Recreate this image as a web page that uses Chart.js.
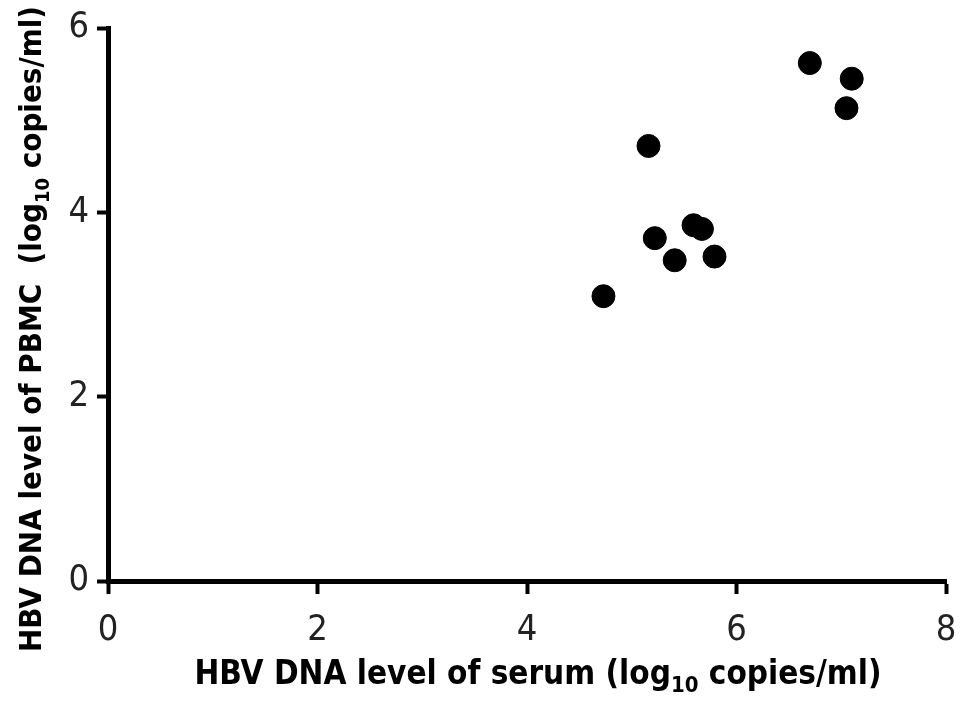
<!DOCTYPE html>
<html>
<head>
<meta charset="utf-8">
<script src="https://cdn.jsdelivr.net/npm/chart.js@4/dist/chart.umd.min.js"></script>
<style>
  html, body { margin: 0; padding: 0; background: #fff; }
  #wrap { width: 969px; height: 717px; position: relative; }
</style>
</head>
<body>
<div id="wrap"><canvas id="c"></canvas></div>
<script>
// serum vs PBMC HBV DNA (log10 copies/ml)
const serumLevels = [6.70, 7.10, 7.05, 5.16, 5.22, 5.59, 5.67, 5.41, 5.79, 4.73];
const pbmcLevels  = [5.62, 5.45, 5.13, 4.72, 3.72, 3.86, 3.82, 3.48, 3.52, 3.09];
const xTicks = [0, 2, 4, 6, 8];
const yTicks = [0, 2, 4, 6];

const xTitle = ['HBV DNA level of serum (log', '10', ' copies/ml)'];
const yTitle = ['HBV DNA level of PBMC  (log', '10', ' copies/ml)'];

const tickFont = "'DejaVu Sans Condensed', sans-serif";
const fam = "'DejaVu Sans Condensed', sans-serif";

// draws a title with a subscript part, centred at (cx, cy)
function drawTitle(ctx, parts, cx, cy, rotate, size) {
    const big = 'bold ' + size + 'px ' + fam;
    const small = 'bold ' + Math.round(size * 0.66) + 'px ' + fam;
    ctx.save();
    ctx.translate(cx, cy);
    if (rotate) ctx.rotate(-Math.PI / 2);
    ctx.fillStyle = '#000';
    ctx.textBaseline = 'alphabetic';
    ctx.textAlign = 'left';
    ctx.font = big;
    const w0 = ctx.measureText(parts[0]).width;
    const w2 = ctx.measureText(parts[2]).width;
    ctx.font = small;
    const w1 = ctx.measureText(parts[1]).width;
    let x = -(w0 + w1 + w2) / 2;
    const base = size * 0.35;
    ctx.font = big;
    ctx.fillText(parts[0], x, base);
    x += w0;
    ctx.font = small;
    ctx.fillText(parts[1], x, base + size * 0.25);
    x += w1;
    ctx.font = big;
    ctx.fillText(parts[2], x, base);
    ctx.restore();
}

const titlePlugin = {
    id: 'axisTitles',
    afterDraw(chart) {
        const ctx = chart.ctx;
        drawTitle(ctx, xTitle, 538, 672, false, 33);
        drawTitle(ctx, yTitle, 30, 329, true, 31);
    }
};

const points = serumLevels.map((x, i) => ({ x: x, y: pbmcLevels[i] }));

new Chart(document.getElementById('c'), {
    type: 'scatter',
    data: {
        datasets: [{
            data: points,
            backgroundColor: '#000',
            borderColor: '#000',
            pointRadius: 11.5,
            pointHoverRadius: 11.5
        }]
    },
    options: {
        responsive: true,
        maintainAspectRatio: false,
        animation: false,
        events: [],
        layout: { padding: { left: 0, right: 23, top: 28, bottom: 0 } },
        plugins: { legend: { display: false }, tooltip: { enabled: false } },
        scales: {
            x: {
                type: 'linear',
                min: 0,
                max: 8,
                afterBuildTicks: s => { s.ticks = xTicks.map(v => ({ value: v })); },
                afterFit: s => { s.height = 136; s.paddingRight = 0; s.paddingLeft = 0; },
                border: { color: '#000', width: 5 },
                grid: { drawOnChartArea: false, drawTicks: true, tickLength: 13, tickWidth: 4, tickColor: '#000' },
                ticks: { color: '#222', padding: 15, font: { family: tickFont, size: 36 } }
            },
            y: {
                type: 'linear',
                min: 0,
                max: 6,
                afterBuildTicks: s => { s.ticks = yTicks.map(v => ({ value: v })); },
                afterFit: s => { s.width = 108; s.paddingTop = 0; s.paddingBottom = 0; },
                border: { color: '#000', width: 5 },
                grid: { drawOnChartArea: false, drawTicks: true, tickLength: 11, tickWidth: 4, tickColor: '#000' },
                ticks: { color: '#222', padding: 8, font: { family: tickFont, size: 36 } }
            }
        }
    },
    plugins: [titlePlugin]
});
</script>
</body>
</html>
